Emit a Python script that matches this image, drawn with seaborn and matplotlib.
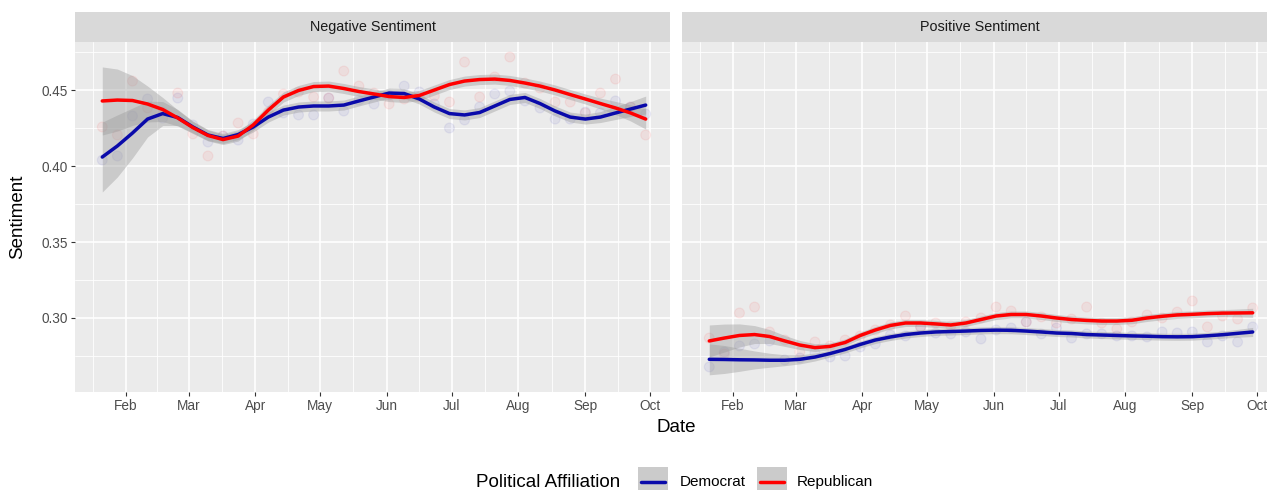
import numpy as np
import pandas as pd
import matplotlib
matplotlib.use("Agg")
import matplotlib.pyplot as plt
import matplotlib.dates as mdates
from matplotlib.ticker import FixedLocator, FixedFormatter
from matplotlib.patches import Rectangle
from matplotlib.lines import Line2D
import seaborn as sns

# ---------------- data ----------------
weeks = pd.date_range("2020-01-21", periods=37, freq="7D")
parties = ["Democrat", "Republican"]
panels = ["Negative Sentiment", "Positive Sentiment"]

# weekly mean sentiment
neg_dem_pts = [0.4039, 0.4066, 0.4329, 0.4441, 0.4316, 0.4447, 0.4270, 0.4158, 0.4197, 0.4171,
               0.4276, 0.4421, 0.4349, 0.4336, 0.4336, 0.4447, 0.4362, 0.4434, 0.4408, 0.4467,
               0.4526, 0.4487, 0.4408, 0.4250, 0.4303, 0.4388, 0.4474, 0.4493, 0.4428, 0.4382,
               0.4309, 0.4309, 0.4355, 0.4349, 0.4428, 0.4388, 0.4342]
neg_rep_pts = [0.4257, 0.4204, 0.4559, 0.4382, 0.4355, 0.4480, 0.4211, 0.4066, 0.4197, 0.4283,
               0.4211, 0.4355, 0.4474, 0.4487, 0.4454, 0.4447, 0.4625, 0.4526, 0.4480, 0.4408,
               0.4441, 0.4454, 0.4461, 0.4421, 0.4684, 0.4454, 0.4586, 0.4717, 0.4546, 0.4513,
               0.4421, 0.4421, 0.4349, 0.4480, 0.4572, 0.4388, 0.4204]
pos_dem_pts = [0.2678, 0.2776, 0.2816, 0.2829, 0.2849, 0.2724, 0.2737, 0.2770, 0.2743, 0.2750,
               0.2809, 0.2829, 0.2888, 0.2882, 0.2941, 0.2901, 0.2895, 0.2908, 0.2862, 0.2921,
               0.2934, 0.2974, 0.2895, 0.2934, 0.2868, 0.2895, 0.2895, 0.2882, 0.2882, 0.2875,
               0.2908, 0.2901, 0.2908, 0.2842, 0.2882, 0.2842, 0.2941]
pos_rep_pts = [0.2868, 0.2763, 0.3033, 0.3072, 0.2908, 0.2855, 0.2776, 0.2842, 0.2816, 0.2855,
               0.2882, 0.2921, 0.2954, 0.3013, 0.2941, 0.2967, 0.2947, 0.2974, 0.3000, 0.3072,
               0.3046, 0.2974, 0.3007, 0.2967, 0.2993, 0.3072, 0.2967, 0.2928, 0.2974, 0.3020,
               0.3000, 0.3039, 0.3112, 0.2941, 0.3013, 0.2993, 0.3066]

# smoothed trend (weekly) and confidence half-widths
neg_dem_fit = [0.4059, 0.4132, 0.4217, 0.4309, 0.4345, 0.4319, 0.4257, 0.4204, 0.4181, 0.4207,
               0.4257, 0.4322, 0.4368, 0.4388, 0.4395, 0.4395, 0.4401, 0.4428, 0.4454, 0.4480,
               0.4477, 0.4441, 0.4388, 0.4345, 0.4336, 0.4352, 0.4395, 0.4438, 0.4451, 0.4411,
               0.4362, 0.4322, 0.4309, 0.4322, 0.4349, 0.4375, 0.4401]
neg_rep_fit = [0.4428, 0.4434, 0.4431, 0.4408, 0.4372, 0.4316, 0.4253, 0.4201, 0.4174, 0.4197,
               0.4270, 0.4368, 0.4454, 0.4497, 0.4523, 0.4526, 0.4510, 0.4490, 0.4474, 0.4457,
               0.4451, 0.4464, 0.4500, 0.4536, 0.4559, 0.4569, 0.4572, 0.4563, 0.4546, 0.4526,
               0.4500, 0.4470, 0.4441, 0.4411, 0.4382, 0.4349, 0.4309]
pos_dem_fit = [0.2728, 0.2727, 0.2725, 0.2724, 0.2722, 0.2722, 0.2728, 0.2743, 0.2766, 0.2793,
               0.2826, 0.2855, 0.2875, 0.2891, 0.2901, 0.2908, 0.2911, 0.2914, 0.2918, 0.2920,
               0.2919, 0.2914, 0.2908, 0.2901, 0.2898, 0.2891, 0.2888, 0.2885, 0.2882, 0.2880,
               0.2877, 0.2876, 0.2877, 0.2883, 0.2890, 0.2899, 0.2908]
pos_rep_fit = [0.2849, 0.2868, 0.2885, 0.2891, 0.2878, 0.2849, 0.2822, 0.2805, 0.2813, 0.2839,
               0.2885, 0.2921, 0.2951, 0.2967, 0.2967, 0.2961, 0.2954, 0.2967, 0.2990, 0.3013,
               0.3023, 0.3023, 0.3013, 0.3000, 0.2990, 0.2984, 0.2980, 0.2980, 0.2985, 0.3000,
               0.3011, 0.3020, 0.3024, 0.3029, 0.3032, 0.3033, 0.3034]

neg_dem_ci = [0.0230, 0.0204, 0.0164, 0.0118, 0.0079, 0.0053, 0.0039, 0.0036] + [0.0033] * 25 + \
             [0.0036, 0.0043, 0.0049, 0.0059]
neg_rep_ci = [0.0224, 0.0204, 0.0164, 0.0118, 0.0079, 0.0053, 0.0039, 0.0036] + [0.0033] * 25 + \
             [0.0036, 0.0043, 0.0053, 0.0066]
pos_dem_ci = [0.0102, 0.0092, 0.0076, 0.0059, 0.0046, 0.0036, 0.0030, 0.0026] + [0.0023] * 27 + \
             [0.0026, 0.0030]
pos_rep_ci = [0.0105, 0.0092, 0.0076, 0.0059, 0.0046, 0.0036, 0.0030, 0.0026] + [0.0023] * 27 + \
             [0.0026, 0.0030]

month_labels = ["Feb", "Mar", "Apr", "May", "Jun", "Jul", "Aug", "Sep", "Oct"]
y_ticks = [0.30, 0.35, 0.40, 0.45]
y_minor = [0.275, 0.325, 0.375, 0.425, 0.475]

colors = {"Democrat": "#0A0AAA", "Republican": "#FF0000"}

points = {
    "Negative Sentiment": {"Democrat": neg_dem_pts, "Republican": neg_rep_pts},
    "Positive Sentiment": {"Democrat": pos_dem_pts, "Republican": pos_rep_pts},
}
fits = {
    "Negative Sentiment": {"Democrat": (neg_dem_fit, neg_dem_ci), "Republican": (neg_rep_fit, neg_rep_ci)},
    "Positive Sentiment": {"Democrat": (pos_dem_fit, pos_dem_ci), "Republican": (pos_rep_fit, pos_rep_ci)},
}

# ---------------- style ----------------
sns.set_theme(style="darkgrid")
plt.rcParams["font.family"] = ["Liberation Sans", "DejaVu Sans"]

W, H = 1267, 490
fig = plt.figure(figsize=(W / 100, H / 100), dpi=100)


def rect(x0, y0, x1, y1):
    return [x0 / W, 1 - y1 / H, (x1 - x0) / W, (y1 - y0) / H]


month_starts = pd.date_range("2020-01-01", "2020-11-01", freq="MS")
major_dates = month_starts[1:10]
mid_dates = month_starts[:-1] + (month_starts[1:] - month_starts[:-1]) / 2
span_days = (pd.Timestamp("2020-10-01") - pd.Timestamp("2020-02-01")).days
px_per_day = 524 / span_days
x_lo = pd.Timestamp("2020-02-01") - pd.Timedelta(days=(126 - 75) / px_per_day)
x_hi = pd.Timestamp("2020-10-01") + pd.Timedelta(days=(670 - 650) / px_per_day)

panel_x = [75, 682]
panel_w = 595
top, bottom = 42, 392

for k, panel in enumerate(panels):
    x0 = panel_x[k]
    ax = fig.add_axes(rect(x0, top, x0 + panel_w, bottom))
    ax.set_facecolor("#EBEBEB")
    for s in ax.spines.values():
        s.set_visible(False)

    pts = pd.DataFrame({
        "date": np.concatenate([weeks, weeks]),
        "party": ["Democrat"] * len(weeks) + ["Republican"] * len(weeks),
        "sentiment": list(points[panel]["Democrat"]) + list(points[panel]["Republican"]),
    })
    sns.scatterplot(data=pts, x="date", y="sentiment", hue="party", palette=colors,
                    s=50, alpha=0.06, edgecolor="face", linewidth=0.9, legend=False,
                    ax=ax, zorder=2)

    for party in parties:
        fit, ci = fits[panel][party]
        fit = np.asarray(fit)
        ci = np.asarray(ci)
        ax.fill_between(weeks, fit - ci, fit + ci, color="#999999", alpha=0.4,
                        linewidth=0, zorder=3)
        df = pd.DataFrame({"date": weeks, "fit": fit})
        sns.lineplot(data=df, x="date", y="fit", color=colors[party], linewidth=2.5,
                     ax=ax, zorder=4)

    ax.set_xlim(x_lo, x_hi)
    ax.set_ylim(0.2513, 0.4816)
    ax.xaxis.set_major_locator(FixedLocator(mdates.date2num(major_dates)))
    ax.xaxis.set_major_formatter(FixedFormatter(month_labels))
    ax.xaxis.set_minor_locator(FixedLocator(mdates.date2num(mid_dates)))
    ax.yaxis.set_major_locator(FixedLocator(y_ticks))
    ax.yaxis.set_major_formatter(FixedFormatter([f"{v:.2f}" for v in y_ticks]))
    ax.yaxis.set_minor_locator(FixedLocator(y_minor))
    ax.grid(which="major", color="white", linewidth=1.2)
    ax.grid(which="minor", color="white", linewidth=0.6)
    ax.set_axisbelow(True)
    ax.tick_params(which="major", length=2.6, width=0.8, color="#333333",
                   labelcolor="#4D4D4D", labelsize=9.8, pad=2.5)
    ax.tick_params(which="minor", length=0)
    ax.tick_params(axis="x", bottom=True)
    ax.tick_params(axis="y", left=True)
    ax.set_xlabel("")
    ax.set_ylabel("")
    if k == 1:
        ax.tick_params(axis="y", left=False, labelleft=False)

    # facet strip
    sax = fig.add_axes(rect(x0, 12, x0 + panel_w, top))
    sax.set_facecolor("#D9D9D9")
    sax.set_xticks([])
    sax.set_yticks([])
    for s in sax.spines.values():
        s.set_visible(False)
    sax.text(0.5, 0.5, panel, ha="center", va="center", fontsize=10.4,
             color="#1A1A1A", transform=sax.transAxes)

# axis titles
fig.text(676 / W, 1 - 427 / H, "Date", ha="center", va="center", fontsize=13.5, color="black")
fig.text(18 / W, 1 - 217 / H, "Sentiment", ha="center", va="center", rotation=90,
         fontsize=13.5, color="black")

# legend at the bottom
fig.text(476 / W, 1 - 482 / H, "Political Affiliation", ha="left", va="center",
         fontsize=13.5, color="black")
for party, kx, lx in [("Democrat", 638, 680), ("Republican", 757, 797)]:
    fig.add_artist(Rectangle((kx / W, 1 - 497 / H), 30 / W, 30 / H,
                             transform=fig.transFigure, facecolor="#CBCBCB",
                             edgecolor="none"))
    fig.add_artist(Line2D([(kx + 3) / W, (kx + 27) / W], [1 - 482 / H] * 2,
                          transform=fig.transFigure, color=colors[party], linewidth=2.5))
    fig.text(lx / W, 1 - 482 / H, party, ha="left", va="center", fontsize=11, color="black")

fig.savefig("out.png", dpi=100, facecolor="white")
